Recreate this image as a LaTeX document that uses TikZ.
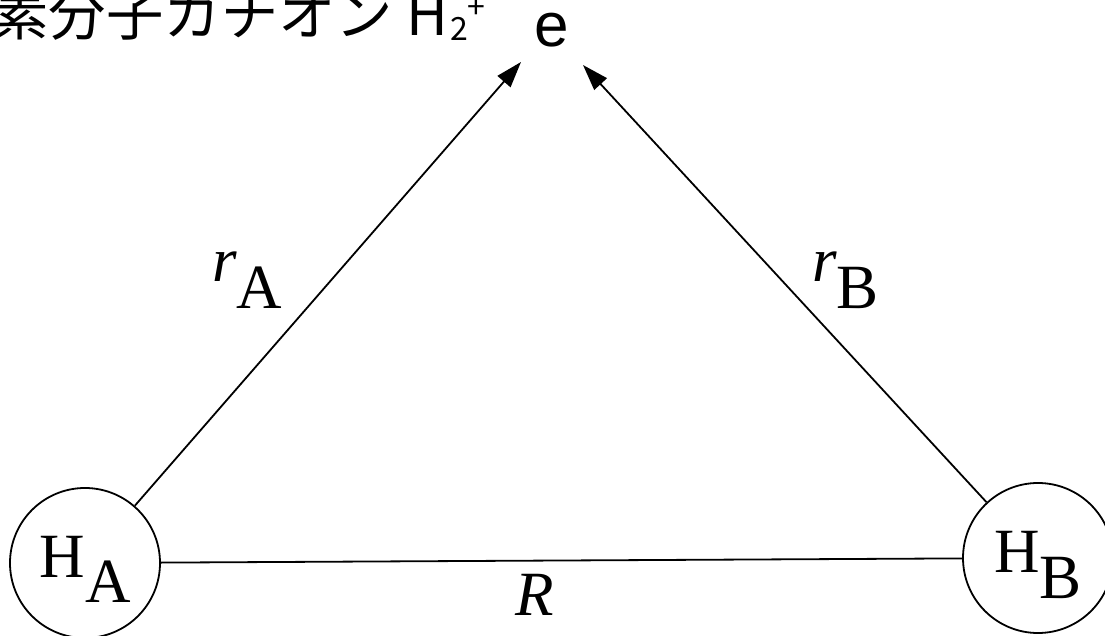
\documentclass[tikz,border=0pt]{standalone}
\usepackage{fontspec}
\setmainfont{Liberation Serif}
\newfontfamily\jpfont{Noto Sans CJK JP}
\newfontfamily\efont{Liberation Sans}
\usetikzlibrary{arrows.meta}
\tikzset{
  atom/.style={circle, draw, line width=1.8pt, minimum size=150pt, inner sep=0pt,
    font=\fontsize{63}{70}\selectfont, text height=48pt, text depth=20pt},
  bond/.style={line width=1.8pt},
  arr/.style={line width=1.8pt, -{Triangle[length=26pt,width=17pt]}},
  lbl/.style={inner sep=0pt, font=\fontsize{63}{70}\selectfont},
}
\begin{document}
\begin{tikzpicture}[x=1pt,y=-1pt]
\useasboundingbox (0,0) rectangle (1105,636);
\clip (0,0) rectangle (1105,636);
\node[atom] (A) at (85,563) {H\raisebox{-25pt}{A}};
\node[atom] (B) at (1038,558) {H\raisebox{-26pt}{B}};
\coordinate (tA) at (521,62);
\coordinate (tB) at (583,65);
\node[inner sep=0pt, anchor=base, font=\efont\fontsize{62}{70}\selectfont] (e) at (551.5,47) {e};
\node[inner sep=0pt, anchor=base west, font=\jpfont\fontsize{57.4}{60}\selectfont] (title) at (-66,36)
  {水素分子カチオン H\kern2pt\raisebox{-5pt}{\fontsize{32}{32}\selectfont 2}\raisebox{17pt}{\fontsize{32}{32}\selectfont +}};
\draw[bond] (A) -- (B);
\draw[arr] (A) -- (tA);
\draw[arr] (B) -- (tB);
\node[lbl, anchor=base west] (rA) at (212,282) {\textit{r}\raisebox{-26pt}{A}};
\node[lbl, anchor=base west] (rB) at (812,281) {\textit{r}\raisebox{-27pt}{B}};
\node[lbl, anchor=base] (R) at (535,615) {\textit{R}};
\end{tikzpicture}
\end{document}
